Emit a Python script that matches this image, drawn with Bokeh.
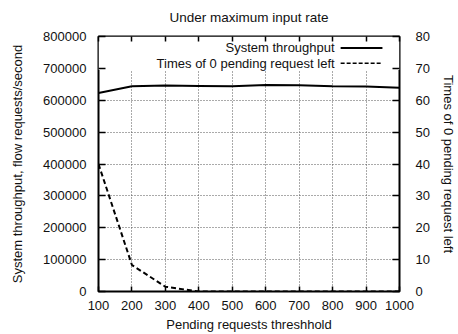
import math
from bokeh.plotting import figure
from bokeh.models import (LinearAxis, Range1d, SingleIntervalTicker, BasicTickFormatter,
                          BoxAnnotation, Label, Arrow, CustomJSTickFormatter)
from bokeh.embed import file_html
from bokeh.resources import INLINE

# ---- data ----
thresholds = [100, 200, 300, 400, 500, 600, 700, 800, 900, 1000]
throughput = [623000, 644000, 646000, 645000, 644000, 648000, 647000, 644000, 643000, 639000]
zero_pending = [40, 8.3, 1.5, 0, 0, 0, 0, 0, 0, 0]
title_text = "Under maximum input rate"
xlabel = "Pending requests threshhold"
ylabel_left = "System throughput, flow requests/second"
ylabel_right = "Times of 0 pending request left"
legend_labels = ["System throughput", "Times of 0 pending request left"]

FONT = "Liberation Sans"
FS = "13px"

p = figure(width=458, height=334, output_backend="svg", toolbar_location=None,
           x_range=Range1d(100, 1000), y_range=Range1d(0, 800000),
           min_border_left=98, min_border_right=58, min_border_top=33, min_border_bottom=42,
           x_axis_location="below", y_axis_location="left")
p.extra_y_ranges = {"times": Range1d(0, 80)}

p.title.text = title_text
p.title.align = "center"
p.title.text_font = FONT
p.title.text_font_size = "13.5px"
p.title.text_font_style = "normal"
p.title.text_color = "#111111"
p.title.standoff = 15

p.outline_line_color = "black"
p.outline_line_width = 2
p.background_fill_color = "white"
p.border_fill_color = "white"

def style_axis(ax, tick_in, label_standoff, axis_label_standoff):
    ax.axis_line_color = None
    ax.major_tick_in = tick_in
    ax.major_tick_out = 0
    ax.minor_tick_line_color = None
    ax.major_tick_line_color = "black"
    ax.major_tick_line_width = 1.5
    ax.major_label_text_font = FONT
    ax.major_label_text_font_size = FS
    ax.major_label_text_color = "#111111"
    ax.major_label_standoff = label_standoff
    ax.axis_label_text_font = FONT
    ax.axis_label_text_font_size = FS
    ax.axis_label_text_font_style = "normal"
    ax.axis_label_text_color = "#111111"
    ax.axis_label_standoff = axis_label_standoff

xax = p.xaxis[0]
xax.ticker = SingleIntervalTicker(interval=100)
xax.axis_label = xlabel
style_axis(xax, 5, 5, 4)

yax = p.yaxis[0]
yax.ticker = SingleIntervalTicker(interval=100000)
yax.formatter = BasicTickFormatter(use_scientific=False)
yax.axis_label = ylabel_left
style_axis(yax, 7, 8, 15)

rax = LinearAxis(y_range_name="times", ticker=SingleIntervalTicker(interval=10),
                 axis_label=ylabel_right)
style_axis(rax, 7, 12, 8)
p.add_layout(rax, "right")

tax = LinearAxis(ticker=SingleIntervalTicker(interval=100),
                 formatter=CustomJSTickFormatter(code="return ''"))
style_axis(tax, 5, 0, 0)
p.add_layout(tax, "above")

for g in p.grid:
    g.grid_line_color = "#555555"
    g.grid_line_dash = "1 2"
    g.grid_line_width = 1
p.xgrid.ticker = SingleIntervalTicker(interval=100)
p.ygrid.ticker = SingleIntervalTicker(interval=100000)

# opaque key area hides the grid near the top
p.add_layout(BoxAnnotation(bottom=695000, top=800000, left=100, right=1000,
                           fill_color="white", fill_alpha=1, line_color=None, level="underlay"))

p.line(thresholds, throughput, line_color="black", line_width=2)
p.line(thresholds, zero_pending, y_range_name="times", line_color="black",
       line_width=2, line_dash="5 3")

# gnuplot-style key: text right-aligned, sample to the right
key_y = [764000, 716000]
key_dash = ["solid", "4 2"]
for lab, yy, dash in zip(legend_labels, key_y, key_dash):
    p.add_layout(Label(x=806, y=yy, text=lab, text_align="right", text_baseline="middle",
                       text_font=FONT, text_font_size=FS, text_color="#111111"))
    p.add_layout(Arrow(x_start=824, y_start=yy, x_end=949, y_end=yy, end=None,
                       line_color="black", line_width=2 if dash == "solid" else 1.5,
                       line_dash=dash))

open("out.html", "w").write(file_html(p, INLINE))
